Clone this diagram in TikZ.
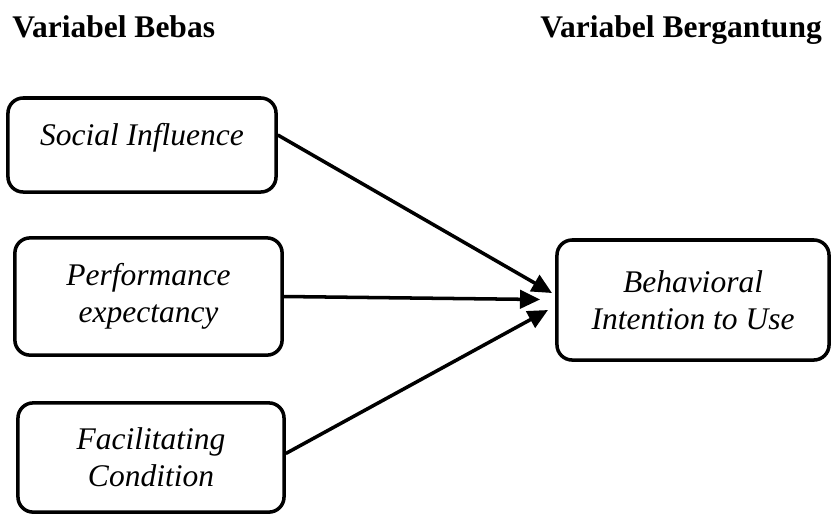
\documentclass[tikz,border=0pt]{standalone}
\usepackage{fontspec}
\setmainfont{Liberation Serif}
\usetikzlibrary{arrows.meta}
\tikzset{
  varbox/.style = {draw=black, line width=2.5pt, rounded corners=0.38cm,
    align=center, inner sep=0pt,
    font=\fontsize{22.4}{26.3}\selectfont\itshape},% kotak variabel
  vartitle/.style = {anchor=base west, inner sep=0pt,
    font=\fontsize{22.4}{26.3}\selectfont\bfseries},% judul kolom
  varlink/.style = {-{Triangle[length=0.5cm,width=0.46cm]},
    line width=2.5pt}% panah pengaruh
}
\begin{document}
\begin{tikzpicture}[x=0.025cm,y=-0.025cm]
\useasboundingbox (0,0) rectangle (832,516);
% judul
\node [vartitle] (bebas) at (12,37) {Variabel Bebas};
\node [vartitle] (bergantung) at (540,37) {Variabel Bergantung};
% variabel bebas
\node [varbox, minimum width=6.7cm, minimum height=2.35cm,
  text height=0.5cm, text depth=0.5cm] (soc) at (142,145) {Social Influence};
\node [varbox, minimum width=6.68cm, minimum height=2.93cm]
  (perf) at (148.5,296.5) {Performance\\expectancy};
\node [varbox, minimum width=6.65cm, minimum height=2.73cm]
  (fac) at (151,457.5) {Facilitating\\Condition};
% variabel bergantung
\node [varbox, minimum width=6.8cm, minimum height=3cm]
  (bi) at (693,300) {Behavioral\\Intention to Use};
% ujung panah
\coordinate (tipsoc) at (552,293);
\coordinate (tipperf) at (540,299.5);
\coordinate (tipfac) at (548,310);
\draw [varlink] ([yshift=0.25cm]soc.east) -- (tipsoc);
\draw [varlink] (perf.east) -- (tipperf);
\draw [varlink] ([yshift=0.1cm]fac.east) -- (tipfac);
\end{tikzpicture}
\end{document}
